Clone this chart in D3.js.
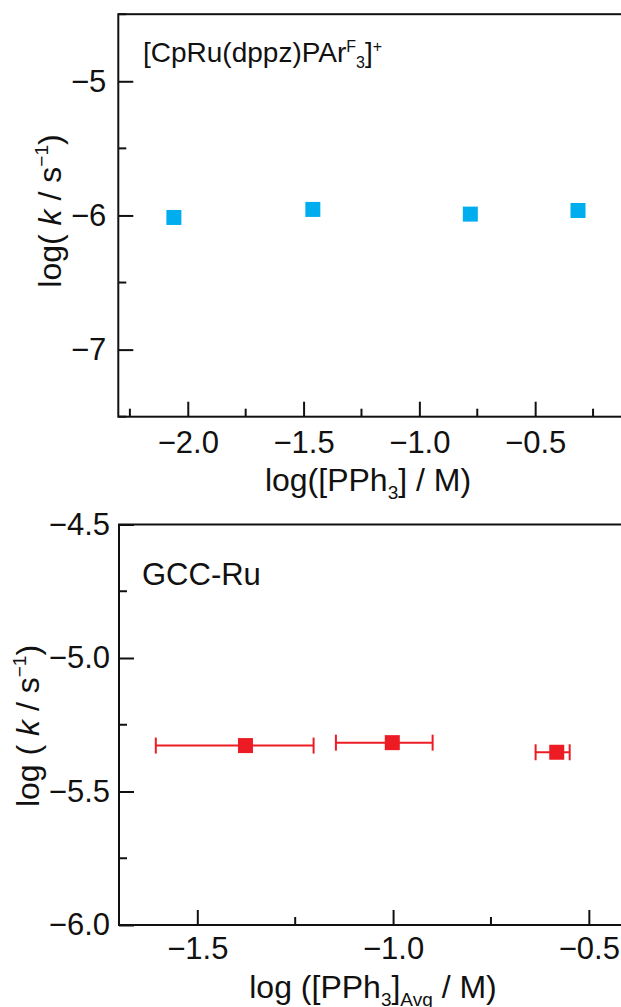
<!DOCTYPE html>
<html>
<head>
<meta charset="utf-8">
<script src="https://cdn.jsdelivr.net/npm/d3@7"></script>
<style>
  body { margin: 0; background: #fff; }
  svg { display: block; font-family: "Liberation Sans", Arial, sans-serif; }
  .axis text { font-family: "Liberation Sans", Arial, sans-serif; font-size: 31px; fill: #111; }
  .axis line, .axis path { stroke: #111; stroke-width: 2; }
</style>
</head>
<body>
<script>
// panel a: [CpRu(dppz)PArF3]+
var topX = [-2.06, -1.46, -0.78, -0.315];
var topY = [-6.015, -5.955, -5.99, -5.963];
var topXTicks = [-2.0, -1.5, -1.0, -0.5];
var topYTicks = [-7, -6, -5];

// panel b: GCC-Ru
var botX = [-1.377, -1.002, -0.582];
var botY = [-5.328, -5.317, -5.353];
var botXLo = [-1.606, -1.146, -0.636];
var botXHi = [-1.203, -0.899, -0.549];
var botXTicks = [-1.5, -1.0, -0.5];
var botYTicks = [-6.0, -5.5, -5.0, -4.5];

var W = 621, H = 1007;
var svg = d3.select('body').append('svg').attr('width', W).attr('height', H);

var minus = function(v, digits) {
  return (v < 0 ? '\u2212' : '') + Math.abs(v).toFixed(digits);
};

function minorTicks(domain, step) {
  var out = [];
  var lo = Math.ceil(domain[0] / step - 1e-9), hi = Math.floor(domain[1] / step + 1e-9);
  for (var i = lo; i <= hi; i++) {
    var v = i * step;
    if (Math.abs(v / (step * 2) - Math.round(v / (step * 2))) > 1e-6) out.push(v);
  }
  return out;
}

function panel(opts) {
  var x = d3.scaleLinear().domain(opts.xDomain).range(opts.xRange);
  var y = d3.scaleLinear().domain(opts.yDomain).range(opts.yRange);
  var g = svg.append('g');

  // minor ticks (inward, shorter)
  var minor = g.append('g').attr('stroke', '#111').attr('stroke-width', 2);
  minor.selectAll('line.mx').data(minorTicks(opts.xDomain, opts.xMinor)).enter().append('line')
    .attr('x1', x).attr('x2', x)
    .attr('y1', opts.yRange[0]).attr('y2', opts.yRange[0] - 8);
  minor.selectAll('line.my').data(minorTicks(opts.yDomain, opts.yMinor)).enter().append('line')
    .attr('y1', y).attr('y2', y)
    .attr('x1', opts.xRange[0]).attr('x2', opts.xRange[0] + 8);

  g.append('g').attr('class', 'axis')
    .attr('transform', 'translate(0,' + opts.yRange[0] + ')')
    .call(d3.axisBottom(x).tickValues(opts.xTicks).tickSize(-15).tickSizeOuter(0)
      .tickPadding(opts.xPad).tickFormat(function(d) { return minus(d, 1); }))
    .call(function(a) { a.select('.domain').remove(); });

  g.append('g').attr('class', 'axis')
    .attr('transform', 'translate(' + opts.xRange[0] + ',0)')
    .call(d3.axisLeft(y).tickValues(opts.yTicks).tickSize(-15).tickSizeOuter(0)
      .tickPadding(opts.yPad).tickFormat(function(d) { return minus(d, opts.yDigits); }))
    .call(function(a) { a.select('.domain').remove(); });

  // frame
  g.append('rect')
    .attr('x', opts.xRange[0]).attr('y', opts.yRange[1])
    .attr('width', opts.xRange[1] - opts.xRange[0])
    .attr('height', opts.yRange[0] - opts.yRange[1])
    .attr('fill', 'none').attr('stroke', '#111').attr('stroke-width', 2);

  return { g: g, x: x, y: y };
}

// ---- top panel ----
var pa = panel({
  xDomain: [-2.3, -0.1], xRange: [118.3, 627.8],
  yDomain: [-7.5, -4.5], yRange: [416.7, 14.2],
  xTicks: topXTicks, yTicks: topYTicks, xMinor: 0.25, yMinor: 0.5,
  xPad: 14, yPad: 12, yDigits: 0
});

pa.g.selectAll('rect.pt').data(topX).enter().append('rect')
  .attr('class', 'pt')
  .attr('x', function(d) { return pa.x(d) - 7.5; })
  .attr('y', function(d, i) { return pa.y(topY[i]) - 7.5; })
  .attr('width', 15).attr('height', 15)
  .attr('fill', '#00aeef');

var ta = pa.g.append('text').attr('x', 143).attr('y', 62).attr('font-size', 28).attr('fill', '#111');
ta.append('tspan').text('[CpRu(dppz)PAr');
ta.append('tspan').attr('font-size', 16).attr('dy', -10).text('F');
ta.append('tspan').attr('font-size', 16).attr('dy', 16).text('3');
ta.append('tspan').attr('dy', -6).text(']');
ta.append('tspan').attr('font-size', 16).attr('dy', -10).text('+');

var xa = pa.g.append('text').attr('x', 368).attr('y', 491).attr('text-anchor', 'middle')
  .attr('font-size', 32).attr('fill', '#111');
xa.append('tspan').text('log([PPh');
xa.append('tspan').attr('font-size', 19).attr('dy', 8).text('3');
xa.append('tspan').attr('dy', -8).text('] / M)');

var ya = pa.g.append('text').attr('transform', 'translate(61,211) rotate(-90)')
  .attr('text-anchor', 'middle').attr('font-size', 32).attr('fill', '#111');
ya.append('tspan').text('log( ');
ya.append('tspan').attr('font-style', 'italic').text('k');
ya.append('tspan').text(' / s');
ya.append('tspan').attr('font-size', 19).attr('dy', -13).text('\u22121');
ya.append('tspan').attr('dy', 13).text(')');

// ---- bottom panel ----
var pb = panel({
  xDomain: [-1.7, -0.4], xRange: [119, 628],
  yDomain: [-6.0, -4.5], yRange: [925, 524.5],
  xTicks: botXTicks, yTicks: botYTicks, xMinor: 0.25, yMinor: 0.25,
  xPad: 12, yPad: 9, yDigits: 1
});

var eb = pb.g.append('g').attr('stroke', '#ed1c24').attr('stroke-width', 2);
eb.selectAll('line.bar').data(botX).enter().append('line')
  .attr('x1', function(d, i) { return pb.x(botXLo[i]); })
  .attr('x2', function(d, i) { return pb.x(botXHi[i]); })
  .attr('y1', function(d, i) { return pb.y(botY[i]); })
  .attr('y2', function(d, i) { return pb.y(botY[i]); });
eb.selectAll('line.lo').data(botXLo.concat(botXHi)).enter().append('line')
  .attr('x1', function(d) { return pb.x(d); })
  .attr('x2', function(d) { return pb.x(d); })
  .attr('y1', function(d, i) { return pb.y(botY[i % botY.length]) - 8; })
  .attr('y2', function(d, i) { return pb.y(botY[i % botY.length]) + 8; });

pb.g.selectAll('rect.pt').data(botX).enter().append('rect')
  .attr('class', 'pt')
  .attr('x', function(d) { return pb.x(d) - 7.5; })
  .attr('y', function(d, i) { return pb.y(botY[i]) - 7.5; })
  .attr('width', 15).attr('height', 15)
  .attr('fill', '#ed1c24');

pb.g.append('text').attr('x', 142).attr('y', 585).attr('font-size', 31).attr('fill', '#111')
  .text('GCC-Ru');

var xb = pb.g.append('text').attr('x', 373).attr('y', 998).attr('text-anchor', 'middle')
  .attr('font-size', 32).attr('fill', '#111');
xb.append('tspan').text('log ([PPh');
xb.append('tspan').attr('font-size', 19).attr('dy', 8).text('3');
xb.append('tspan').attr('dy', -8).text(']');
xb.append('tspan').attr('font-size', 19).attr('dy', 8).text('Avg');
xb.append('tspan').attr('dy', -8).text(' / M)');

var yb = pb.g.append('text').attr('transform', 'translate(39,726) rotate(-90)')
  .attr('text-anchor', 'middle').attr('font-size', 32).attr('fill', '#111');
yb.append('tspan').text('log ( ');
yb.append('tspan').attr('font-style', 'italic').text('k');
yb.append('tspan').text(' / s');
yb.append('tspan').attr('font-size', 19).attr('dy', -13).text('\u22121');
yb.append('tspan').attr('dy', 13).text(')');
</script>
</body>
</html>
